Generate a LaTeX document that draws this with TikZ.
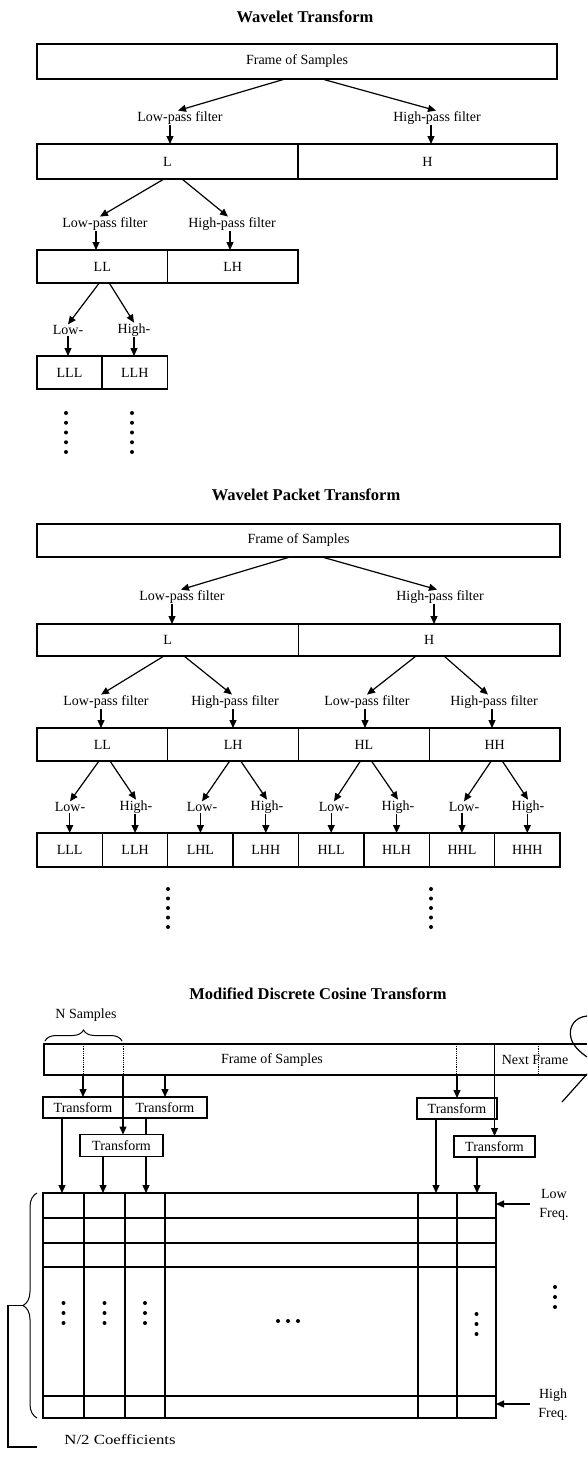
\documentclass[tikz,border=0pt]{standalone}
\usepackage{fontspec}
\usepackage{graphicx}
\setmainfont{Liberation Serif}
\usetikzlibrary{arrows.meta,decorations.pathreplacing,calc}
\begin{document}
\begin{tikzpicture}[x=1pt,y=-1pt,
  every node/.style={font=\fontsize{14}{16}\selectfont, inner sep=1pt, outer sep=0pt},
  bx/.style={draw, line width=1.3pt, inner sep=0pt},
  ttl/.style={font=\fontsize{16.5}{18}\selectfont\bfseries},
  arr/.style={-{Triangle[length=8pt,width=7pt]}, line width=1.2pt},
  ln/.style={line width=1.2pt},
  gl/.style={line width=1.2pt},
  dotn/.style={circle, fill, inner sep=0pt, minimum size=4pt},
  dotl/.style={densely dotted, line width=0.8pt},
  twol/.style={align=center, font=\fontsize{14}{19}\selectfont},
]
\useasboundingbox (0,0) rectangle (587,1459);

% ================= Wavelet Transform =================
\node[ttl] (t1) at (305,17) {Wavelet Transform};
\node[bx, minimum width=520pt, minimum height=35pt] (wF) at (297,61.5) {Frame of Samples};
\node (wLp) at (180,118) {Low-pass filter};
\node (wHp) at (437,118) {High-pass filter};
\draw[arr] ([xshift=-12pt]wF.south) -- ([xshift=-2pt]wLp.north);
\draw[arr] ([xshift=25pt]wF.south) -- ([xshift=-1pt]wHp.north);
\node[bx, minimum width=261pt, minimum height=35pt] (wL) at (167.5,161.5) {L};
\node[bx, minimum width=259pt, minimum height=35pt] (wH) at (427.5,161.5) {H};
\draw[arr] (170,0 |- wLp.south) -- (170,0 |- wL.north);
\draw[arr] (431,0 |- wHp.south) -- (431,0 |- wH.north);

\node (wLLp) at (105,224) {Low-pass filter};
\node (wLHp) at (232,224) {High-pass filter};
\draw[arr] ([xshift=-3.5pt]wL.south) -- ([xshift=-5pt]wLLp.north);
\draw[arr] ([xshift=14.5pt]wL.south) -- ([xshift=-4pt]wLHp.north);
\node[bx, minimum width=130.5pt, minimum height=33pt] (wLL) at (102.25,266.5) {LL};
\node[bx, minimum width=130.5pt, minimum height=33pt] (wLH) at (232.75,266.5) {LH};
\draw[arr] (96,0 |- wLLp.south) -- (96,0 |- wLL.north);
\draw[arr] (230,0 |- wLHp.south) -- (230,0 |- wLH.north);

\node (wLo) at (68,330) {Low-};
\node (wHi) at (134,330) {High-};
\draw[arr] ([xshift=-3pt]wLL.south) -- (wLo.north);
\draw[arr] ([xshift=7pt]wLL.south) -- (wHi.north);
\node[bx, minimum width=65pt, minimum height=33pt] (wLLL) at (69.5,372.5) {LLL};
\node[bx, minimum width=65.5pt, minimum height=33pt] (wLLH) at (134.75,372.5) {LLH};
\draw[arr] (wLo.south) -- (wLo.south |- wLLL.north);
\draw[arr] (wHi.south) -- (wHi.south |- wLLH.north);
\foreach \k in {0,...,4} {
  \node[dotn] (wda\k) at (66,413+9.75*\k) {};
  \node[dotn] (wdb\k) at (132,413+9.75*\k) {};
}

% ================= Wavelet Packet Transform =================
\node[ttl] (t2) at (306,495) {Wavelet Packet Transform};
\node[bx, minimum width=523pt, minimum height=33pt] (pF) at (298.5,540.5) {Frame of Samples};
\node (pLp) at (182,597) {Low-pass filter};
\node (pHp) at (440,597) {High-pass filter};
\draw[arr] ([xshift=-8.5pt]pF.south) -- ([xshift=-1pt]pLp.north);
\draw[arr] ([xshift=23.5pt]pF.south) -- ([xshift=-3pt]pHp.north);
\node[bx, minimum width=261.5pt, minimum height=32pt] (pL) at (167.75,640) {L};
\node[bx, minimum width=261.5pt, minimum height=32pt] (pH) at (429.25,640) {H};
\draw[arr] (172,0 |- pLp.south) -- (172,0 |- pL.north);
\draw[arr] (434,0 |- pHp.south) -- (434,0 |- pH.north);

\node (pa1) at (106,702) {Low-pass filter};
\node (pa2) at (235,702) {High-pass filter};
\node (pa3) at (367,702) {Low-pass filter};
\node (pa4) at (494,702) {High-pass filter};
\draw[arr] ([xshift=-3.75pt]pL.south) -- ([xshift=-5pt]pa1.north);
\draw[arr] ([xshift=16.25pt]pL.south) -- ([xshift=-3pt]pa2.north);
\draw[arr] ([xshift=-13.25pt]pH.south) -- (pa3.north);
\draw[arr] ([xshift=14.75pt]pH.south) -- ([xshift=-6pt]pa4.north);
\foreach \n/\cx/\t in {1/102.375/LL,2/233.125/LH,3/363.875/HL,4/494.625/HH}
  \node[bx, minimum width=130.75pt, minimum height=33pt] (pq\n) at (\cx,744.5) {\t};
\foreach \n/\xx in {1/101,2/233,3/365,4/492}
  \draw[arr] (\xx,0 |- pa\n.south) -- (\xx,0 |- pq\n.north);

\foreach \n/\cx/\t in {1/70/Low-,2/136/High-,3/202/Low-,4/267/High-,5/334/Low-,6/398/High-,7/464/Low-,8/528/High-}
  \node (pb\n) at (\cx,807) {\t};
\foreach \q/\a/\b in {1/1/2,2/3/4,3/5/6,4/7/8} {
  \draw[arr] ([xshift=-3.4pt]pq\q.south) -- (pb\a.north);
  \draw[arr] ([xshift=7.6pt]pq\q.south) -- (pb\b.north);
}
\foreach \n/\cx/\t in {1/69.69/LLL,2/135.06/LLH,3/200.44/LHL,4/265.81/LHH,5/331.19/HLL,6/396.56/HLH,7/461.94/HHL,8/527.31/HHH}
  \node[bx, minimum width=65.375pt, minimum height=34pt] (pe\n) at (\cx,850) {\t};
\foreach \n in {1,...,8}
  \draw[arr] (pe\n.north |- pb\n.south) -- (pe\n.north);
\foreach \k in {0,...,4} {
  \node[dotn] (pda\k) at (168,889+9.5*\k) {};
  \node[dotn] (pdb\k) at (431,889+9.5*\k) {};
}

% ================= MDCT =================
\node[ttl] (t3) at (318,994) {Modified Discrete Cosine Transform};
\node (nsamp) at (86,1015) {N Samples};
\coordinate (brL) at (45,1041);
\coordinate (brR) at (122,1041);
\draw[decorate, decoration={brace, amplitude=11pt}, line width=1pt] (brL) -- (brR);

\node[minimum width=543pt, minimum height=31pt, inner sep=0pt] (mF) at (315.5,1059.5) {};
\draw[ln] (mF.north east) -- (mF.north west) -- (mF.south west) -- (mF.south east);
\node (mFt) at (272,1060) {Frame of Samples};
\node (mNx) at (535,1060) {Next Frame};
\foreach \xx in {83,123,456,538}
  \draw[dotl] (\xx,0 |- mF.north) -- (\xx,0 |- mF.south);
% break mark at the right edge
\draw[ln] (587,1016) .. controls (575,1017) and (568,1027) .. (571,1038)
          .. controls (573,1046) and (580,1052) .. (587,1057);
\draw[ln] (587,1074) -- (562,1102);

\node[bx, minimum width=80pt, minimum height=21pt] (T1) at (83,1107.5) {Transform};
\node[bx, minimum width=84pt, minimum height=21pt] (T2) at (165,1107.5) {Transform};
\node[bx, minimum width=83pt, minimum height=22pt] (T3) at (121.5,1145.5) {Transform};
\node[bx, minimum width=80pt, minimum height=21pt] (R1) at (457,1108.5) {Transform};
\node[bx, minimum width=81pt, minimum height=21pt] (R2) at (494.5,1146.5) {Transform};

\draw[arr] (T1.north |- mF.south) -- (T1.north);
\draw[arr] (T2.north |- mF.south) -- (T2.north);
\draw[arr] (123,0 |- mF.south) -- (123,0 |- T3.north);
\draw[arr] (R1.north |- mF.south) -- (R1.north);
\draw[arr] (R2.north |- mF.north) -- (R2.north);

\node[draw, line width=1.3pt, minimum width=453pt, minimum height=225pt, inner sep=0pt] (G) at (269.5,1305.5) {};
\foreach \yy in {1218,1243,1267,1396}
  \draw[gl] (G.west |- 0,\yy) -- (G.east |- 0,\yy);
\foreach \xx in {84,125,165,418,457}
  \draw[gl] (\xx,0 |- G.north) -- (\xx,0 |- G.south);

\draw[arr] (62,0 |- T1.south) -- (62,0 |- G.north);
\draw[arr] (103,0 |- T3.south) -- (103,0 |- G.north);
\draw[ln] (146,0 |- T2.south) -- (146,0 |- T3.north);
\draw[arr] (146,0 |- T3.south) -- (146,0 |- G.north);
\draw[arr] (436,0 |- R1.south) -- (436,0 |- G.north);
\draw[arr] (477,0 |- R2.south) -- (477,0 |- G.north);

\foreach \k in {0,1,2} {
  \node[dotn] (gda\k) at (63.5,1303+10*\k) {};
  \node[dotn] (gdb\k) at (104.5,1303+10*\k) {};
  \node[dotn] (gdc\k) at (145,1303+10*\k) {};
  \node[dotn] (gdd\k) at (476.5,1314+10*\k) {};
  \node[dotn] (gdh\k) at (278+10*\k,1321) {};
  \node[dotn] (gdr\k) at (555,1287+10*\k) {};
}

\node[twol] (lowf) at (554,1205) {Low\\Freq.};
\coordinate (lowa) at (530,1204);
\draw[arr] (lowa) -- (lowa -| G.east);
\node[twol] (highf) at (553,1405) {High\\Freq.};
\coordinate (higha) at (530,1404);
\draw[arr] (higha) -- (higha -| G.east);

\coordinate (lbB) at (37,1418);
\coordinate (lbT) at (37,1193);
\draw[decorate, decoration={brace, amplitude=14pt}, line width=1pt] (lbB) -- (lbT);
\coordinate (lbTip) at (23,1305.5);
\coordinate (lbCorner) at (8,1305.5);
\coordinate (ncEnd) at (37,1447);
\draw[ln] (lbTip) -- (lbCorner) |- (ncEnd);
\node (ncoef) at (120,1440) {\scalebox{1.2}[1]{N/2 Coefficients}};
\end{tikzpicture}
\end{document}
